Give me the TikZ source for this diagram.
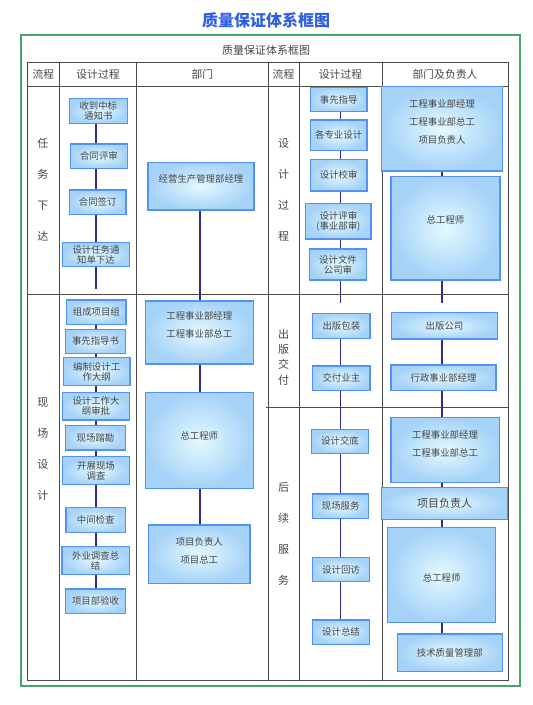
\documentclass[tikz,border=0pt]{standalone}
\usepackage{fontspec}
\setmainfont{Noto Sans CJK SC}
\definecolor{frameg}{RGB}{70,165,110}
\definecolor{titleb}{RGB}{45,95,230}
\definecolor{bxborder}{RGB}{85,145,240}
\definecolor{bxout}{RGB}{165,210,248}
\definecolor{bxin}{RGB}{228,249,255}
\definecolor{conn}{RGB}{45,45,140}
\definecolor{gridc}{RGB}{75,75,75}
\definecolor{txtc}{RGB}{70,70,70}
\tikzset{
 bx/.style={draw=bxborder, line width=1.2pt, inner color=bxin, outer color=bxout, inner sep=0pt, align=center, text=txtc, font=\fontsize{9.4}{10}\selectfont},
 lbl/.style={inner sep=0pt, align=center, text=txtc, font=\fontsize{9.4}{11}\selectfont},
 hd/.style={inner sep=0pt, text=txtc, font=\fontsize{10.8}{12}\selectfont},
 vt/.style={inner sep=0pt, align=center, text=txtc, font=\fontsize{11}{31}\selectfont},
 vts/.style={inner sep=0pt, align=center, text=txtc, font=\fontsize{11}{15.3}\selectfont},
 cn/.style={draw=conn, line width=1.3pt},
 gridln/.style={draw=gridc, line width=1pt},
}
\newcommand{\Bx}[6]{\node[bx, minimum width={(#4-#2)*1pt}, minimum height={(#5-#3)*1pt}] (#1) at ({(#2+#4)/2},{(#3+#5)/2}) {#6};}
\begin{document}
\begin{tikzpicture}[x=1pt,y=-1pt]
\useasboundingbox (0,0) rectangle (533,705);
\fill[white] (0,0) rectangle (533,705);
% title
\node[inner sep=0pt, text=titleb, font=\fontsize{16}{18}\selectfont\bfseries] (title) at (266,20) {质量保证体系框图};
% green frame
\draw[frameg, line width=2.5pt] (21,35) rectangle (520,686);
\node[inner sep=0pt, text=txtc, font=\fontsize{11}{12}\selectfont] (sub) at (266,50) {质量保证体系框图};
% table grid
\draw[gridln] (27,62) rectangle (508,680);
\foreach \xx in {59.5,136.7,268,299,382} \draw[gridln] (\xx,62) -- (\xx,680);
\draw[gridln] (27,86) -- (508,86);
\draw[gridln] (27,294) -- (508,294);
\draw[gridln] (266,407) -- (508,407);
% headers
\node[hd] (h1) at (43.3,74) {流程};
\node[hd] (h2) at (98,74) {设计过程};
\node[hd] (h3) at (202.3,74) {部门};
\node[hd] (h4) at (283.5,74) {流程};
\node[hd] (h5) at (340.5,74) {设计过程};
\node[hd] (h6) at (445,74) {部门及负责人};
% flow labels
\node[vt] (f1) at (43,190) {任\\务\\下\\达};
\node[vt] (f2) at (43,449) {现\\场\\设\\计};
\node[vt] (f3) at (283.5,190) {设\\计\\过\\程};
\node[vts] (f4) at (283.5,357) {出\\版\\交\\付};
\node[vt] (f5) at (283.5,534) {后\\续\\服\\务};
% left design column
\Bx{sz}{69.3}{98.3}{127.3}{123.3}{收到中标\\通知书}
\Bx{hp}{70.7}{144}{127.3}{168.3}{合同评审}
\Bx{qd}{69.3}{190}{126}{214.3}{合同签订}
\Bx{rw}{62.7}{242.7}{129.3}{266.7}{设计任务通\\知单下达}
\Bx{zc}{66.7}{300}{126}{324.3}{组成项目组}
\Bx{zd}{65.7}{329.3}{125.3}{353.3}{事先指导书}
\Bx{bz}{63.3}{357.7}{130}{385.7}{编制设计工\\作大纲}
\Bx{sp}{62.7}{392.3}{129.3}{420}{设计工作大\\纲审批}
\Bx{tk}{65.7}{425.7}{125.3}{450}{现场踏勘}
\Bx{kz}{62.7}{456.7}{129.3}{484.3}{开展现场\\调查}
\Bx{zj}{66}{507.7}{125.3}{532.3}{中间检查}
\Bx{wy}{62}{546.7}{129.3}{574.3}{外业调查总\\结}
\Bx{ys}{65.7}{589}{125.3}{613.3}{项目部验收}
% middle department column
\Bx{jy}{148}{162.3}{254}{210}{}
\node[lbl] (jyt) at (201,179.3) {经营生产管理部经理};
\Bx{gca}{145.3}{301}{253.3}{364}{}
\node[lbl] (gcat) at (199.3,325) {工程事业部经理\\[7pt]工程事业部总工};
\Bx{zga}{145.3}{392.7}{253.3}{488.3}{}
\node[lbl] (zgat) at (199.3,435.7) {总工程师};
\Bx{xma}{148.7}{525}{250}{583.3}{}
\node[lbl] (xmat) at (199.3,551) {项目负责人\\[7pt]项目总工};
% right design column
\Bx{sx}{310.3}{87.3}{367}{111.7}{事先指导}
\Bx{gz}{310.3}{120}{367}{150.7}{各专业设计}
\Bx{jx}{310.3}{159.3}{367}{191}{设计校审}
\Bx{psb}{305.7}{203.3}{371}{239}{设计评审\\(事业部审)}
\Bx{gs}{309.3}{249}{366.7}{280}{设计文件\\公司审}
\Bx{cb}{312.7}{313.3}{370}{338.3}{出版包装}
\Bx{jf}{312.7}{366}{370}{390.7}{交付业主}
\Bx{jd}{311.7}{429.3}{368.3}{453.3}{设计交底}
\Bx{fw}{312.7}{494}{368.7}{518.3}{现场服务}
\Bx{hf}{312.7}{557.7}{369.3}{581.7}{设计回访}
\Bx{zjb}{312.7}{620}{369.3}{644.3}{设计总结}
% right department column
\Bx{gcb}{381.7}{86.7}{502.3}{171}{}
\node[lbl] (gcbt) at (442,122.3) {工程事业部经理\\[7pt]工程事业部总工\\[7pt]项目负责人};
\Bx{zgb}{391}{176.7}{500}{280}{}
\node[lbl] (zgbt) at (445.5,220) {总工程师};
\Bx{cbgs}{391.7}{312.7}{497.3}{339}{出版公司}
\Bx{xz}{391}{365}{496}{390.7}{行政事业部经理}
\Bx{gcc}{391}{417.7}{499.3}{482.7}{}
\node[lbl] (gcct) at (445,444) {工程事业部经理\\[7pt]工程事业部总工};
\node[bx, font=\fontsize{11}{12}\selectfont, minimum width=125.6pt, minimum height=31.6pt] (xmfz) at (444.5,503.5) {项目负责人};
\Bx{zgc}{387.7}{527.3}{495.7}{622.7}{}
\node[lbl] (zgct) at (441.7,578.3) {总工程师};
\Bx{js}{397.3}{634}{502.3}{671.7}{技术质量管理部}
% column guides
\coordinate (L) at (96,0);
\coordinate (M) at (200,0);
\coordinate (R) at (340.5,0);
\coordinate (S) at (442,0);
\coordinate (e1) at (96,289);
\coordinate (e2) at (340.5,303);
\coordinate (e3) at (442,303);
% connectors left
\draw[cn] (sz.south -| L) -- (hp.north -| L);
\draw[cn] (hp.south -| L) -- (qd.north -| L);
\draw[cn] (qd.south -| L) -- (rw.north -| L);
\draw[cn] (rw.south -| L) -- (e1);
\draw[cn] (zc.south -| L) -- (zd.north -| L);
\draw[cn] (zd.south -| L) -- (bz.north -| L);
\draw[cn] (bz.south -| L) -- (sp.north -| L);
\draw[cn] (sp.south -| L) -- (tk.north -| L);
\draw[cn] (tk.south -| L) -- (kz.north -| L);
\draw[cn] (kz.south -| L) -- (zj.north -| L);
\draw[cn] (zj.south -| L) -- (wy.north -| L);
\draw[cn] (wy.south -| L) -- (ys.north -| L);
% connectors middle
\draw[cn] (jy.south -| M) -- (gca.north -| M);
\draw[cn] (gca.south -| M) -- (zga.north -| M);
\draw[cn] (zga.south -| M) -- (xma.north -| M);
% connectors right design
\draw[cn] (sx.south -| R) -- (gz.north -| R);
\draw[cn] (gz.south -| R) -- (jx.north -| R);
\draw[cn] (jx.south -| R) -- (psb.north -| R);
\draw[cn] (psb.south -| R) -- (gs.north -| R);
\draw[cn] (gs.south -| R) -- (e2);
\draw[cn] (cb.south -| R) -- (jf.north -| R);
\draw[cn] (jf.south -| R) -- (jd.north -| R);
\draw[cn] (jd.south -| R) -- (fw.north -| R);
\draw[cn] (fw.south -| R) -- (hf.north -| R);
\draw[cn] (hf.south -| R) -- (zjb.north -| R);
% connectors right department
\draw[cn] (gcb.south -| S) -- (zgb.north -| S);
\draw[cn] (zgb.south -| S) -- (e3);
\draw[cn] (cbgs.south -| S) -- (xz.north -| S);
\draw[cn] (xz.south -| S) -- (gcc.north -| S);
\draw[cn] (gcc.south -| S) -- (xmfz.north -| S);
\draw[cn] (xmfz.south -| S) -- (zgc.north -| S);
\draw[cn] (zgc.south -| S) -- (js.north -| S);
\end{tikzpicture}
\end{document}
